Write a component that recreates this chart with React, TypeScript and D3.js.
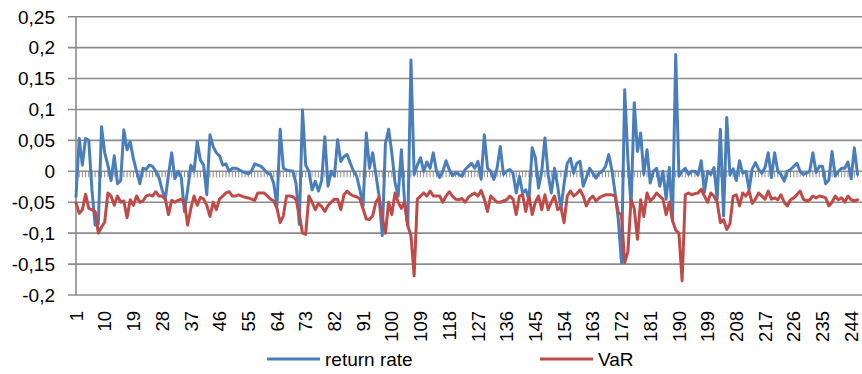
import * as d3 from "d3";

const returnRate = [
  -0.041, 0.053, 0.01, 0.053, 0.05, -0.03, -0.087, -0.085, 0.072, 0.03,
  0.01, -0.015, 0.025, -0.02, -0.015, 0.067, 0.035, 0.048, 0.02, 0.0,
  -0.02, 0.005, 0.003, 0.01, 0.008, 0.0, -0.01, -0.03, -0.045, -0.005,
  0.03, -0.012, 0.0, -0.01, -0.065, -0.03, 0.01, 0.0, 0.048, 0.018,
  0.01, -0.038, 0.059, 0.04, 0.03, 0.025, 0.01, 0.012, 0.0, 0.005,
  0.005, 0.003, 0.0, -0.002, -0.004, 0.0, 0.012, 0.01, 0.008, 0.003,
  -0.003, -0.005, -0.02, -0.056, 0.068, 0.005, 0.002, 0.001, 0.0, -0.02,
  -0.086, 0.099, 0.01, 0.0, -0.03, -0.016, -0.032, -0.015, 0.056, -0.024,
  0.0, -0.008, 0.051, 0.016, 0.024, 0.027, 0.013, 0.0, -0.008, -0.03,
  -0.056, 0.062, 0.005, 0.03, -0.005, -0.04, -0.104, 0.045, 0.068, 0.03,
  -0.018, -0.04, 0.035, -0.05, -0.088, 0.18, -0.005, 0.01, 0.022, 0.0,
  0.015, 0.005, 0.03, 0.0, -0.01, 0.0, 0.017, 0.003, -0.007, -0.002,
  -0.005, -0.008, 0.003, 0.008, 0.013, 0.005, 0.016, -0.013, 0.059, 0.005,
  0.0, -0.013, 0.005, 0.04, -0.005, 0.0, 0.003, -0.003, -0.035, -0.008,
  -0.035, -0.03, -0.046, 0.038, 0.022, -0.027, 0.0, 0.054, -0.005, -0.035,
  0.005, -0.024, -0.062, -0.02, 0.013, 0.021, -0.003, 0.013, 0.016, -0.024,
  -0.01, 0.005, -0.003, -0.011, -0.003, 0.0, 0.008, 0.027, 0.002, -0.035,
  -0.078, -0.148, 0.132, 0.02, -0.056, 0.111, 0.032, 0.062, -0.005, 0.035,
  -0.019, 0.0, 0.005, -0.024, 0.0, -0.045, 0.006, -0.08, 0.189, -0.008,
  0.0, 0.005, -0.005, 0.0, 0.0, -0.006, 0.017, -0.034, 0.0, -0.005,
  0.006, -0.045, 0.068, -0.072, 0.087, -0.006, 0.004, -0.015, 0.017, -0.003,
  0.0, -0.03, 0.004, 0.014, 0.003, -0.003, 0.006, 0.03, -0.01, 0.03,
  0.0, -0.005, -0.016, 0.0, 0.003, 0.008, 0.013, 0.0, -0.005, -0.003,
  0.0, 0.03, -0.002, 0.008, 0.008, -0.02, -0.014, 0.032, -0.008, 0.0,
  0.005, 0.005, 0.015, -0.012, 0.038, -0.005,
];

const valueAtRisk = [
  -0.051, -0.068, -0.062, -0.037, -0.06, -0.062, -0.065, -0.1, -0.09, -0.082,
  -0.035, -0.04, -0.055, -0.04, -0.05, -0.048, -0.075, -0.046, -0.055, -0.04,
  -0.05, -0.048, -0.04, -0.038, -0.04, -0.033, -0.04, -0.04, -0.045, -0.07,
  -0.047, -0.05, -0.047, -0.045, -0.05, -0.087, -0.06, -0.04, -0.055, -0.042,
  -0.045, -0.055, -0.073, -0.05, -0.062, -0.045, -0.04, -0.035, -0.033, -0.04,
  -0.04, -0.038, -0.04, -0.042, -0.043, -0.045, -0.047, -0.035, -0.035, -0.035,
  -0.04, -0.045, -0.048, -0.06, -0.083, -0.072, -0.04, -0.04, -0.041, -0.046,
  -0.07, -0.1, -0.102, -0.04, -0.05, -0.062, -0.052, -0.057, -0.065, -0.055,
  -0.05, -0.045, -0.045, -0.062, -0.038, -0.032, -0.037, -0.04, -0.041, -0.045,
  -0.061, -0.077, -0.078, -0.072, -0.05, -0.042, -0.075, -0.1, -0.05, -0.07,
  -0.035, -0.05, -0.06, -0.05, -0.088, -0.104, -0.169, -0.045, -0.04, -0.035,
  -0.04, -0.032, -0.04, -0.04, -0.04, -0.05, -0.04, -0.033, -0.04, -0.045,
  -0.046, -0.044, -0.05, -0.042, -0.038, -0.035, -0.04, -0.031, -0.045, -0.065,
  -0.04, -0.045, -0.05, -0.05, -0.048, -0.046, -0.04, -0.045, -0.07, -0.04,
  -0.038, -0.065, -0.04, -0.07, -0.05, -0.04, -0.062, -0.038, -0.062, -0.05,
  -0.04, -0.062, -0.058, -0.083, -0.04, -0.032, -0.04, -0.036, -0.03, -0.04,
  -0.056, -0.045, -0.04, -0.048, -0.043, -0.04, -0.038, -0.038, -0.038, -0.04,
  -0.067, -0.07, -0.148, -0.13, -0.046, -0.06, -0.11, -0.046, -0.073, -0.035,
  -0.048, -0.043, -0.035, -0.04, -0.045, -0.07, -0.05, -0.08, -0.095, -0.1,
  -0.177, -0.038, -0.035, -0.038, -0.036, -0.035, -0.029, -0.04, -0.05, -0.035,
  -0.04, -0.05, -0.083, -0.078, -0.094, -0.085, -0.04, -0.038, -0.056, -0.035,
  -0.04, -0.032, -0.052, -0.045, -0.035, -0.04, -0.045, -0.032, -0.045, -0.043,
  -0.046, -0.038, -0.05, -0.056, -0.046, -0.043, -0.038, -0.032, -0.045, -0.048,
  -0.046, -0.04, -0.043, -0.04, -0.041, -0.043, -0.056, -0.05, -0.04, -0.046,
  -0.043, -0.05, -0.04, -0.046, -0.048, -0.046,
];

const categories = returnRate.map((_, i) => i + 1);
const xTickLabels = categories.filter((c) => (c - 1) % 9 === 0);
const yTicks = [0.25, 0.2, 0.15, 0.1, 0.05, 0, -0.05, -0.1, -0.15, -0.2];

const seriesNames = ["return rate", "VaR"];
const colors = ["#4a7ebb", "#be4b48"];

const width = 862;
const height = 374;
const plot = { left: 76, right: 862, top: 16.7, bottom: 295 };
const step = 3.19;

const fmt = (v) => String(v).replace(".", ",");

export default function App() {
  const x = d3
    .scalePoint()
    .domain(categories)
    .range([plot.left, plot.left + (categories.length - 1) * step]);

  const y = d3.scaleLinear().domain([-0.2, 0.25]).range([plot.bottom, plot.top]);

  const line = d3
    .line()
    .x((d, i) => x(categories[i]))
    .y((d) => y(d));

  const font = "'Liberation Sans', Arial, sans-serif";
  const gridColor = "#8c8c8c";

  return (
    <svg
      width={width}
      height={height}
      style={{ position: "absolute", left: 0, top: 0, background: "#fff" }}
      fontFamily={font}
    >
      {/* gridlines and value labels */}
      {yTicks.map((t) => (
        <g key={t}>
          <line
            x1={68}
            x2={plot.right}
            y1={y(t)}
            y2={y(t)}
            stroke={gridColor}
            strokeWidth={1.6}
          />
          <text
            x={55}
            y={y(t)}
            dy="0.36em"
            textAnchor="end"
            fontSize={19}
            fill="#000"
          >
            {fmt(t)}
          </text>
        </g>
      ))}

      <line
        x1={plot.left}
        x2={plot.left}
        y1={plot.top}
        y2={plot.bottom}
        stroke={gridColor}
        strokeWidth={1.6}
      />

      {/* category ticks hang off the zero line */}
      {categories.map((c) => (
        <line
          key={c}
          x1={x(c)}
          x2={x(c)}
          y1={y(0)}
          y2={y(0) + 6}
          stroke={gridColor}
          strokeWidth={1}
        />
      ))}

      {xTickLabels.map((c) => (
        <text
          key={c}
          transform={`translate(${x(c)},311) rotate(-90)`}
          dy="0.36em"
          textAnchor="end"
          fontSize={18.5}
          fill="#000"
        >
          {c}
        </text>
      ))}

      {[returnRate, valueAtRisk].map((s, k) => (
        <path
          key={k}
          d={line(s)}
          fill="none"
          stroke={colors[k]}
          strokeWidth={3}
          strokeLinejoin="round"
          strokeLinecap="round"
        />
      ))}

      {seriesNames.map((name, k) => {
        const lx = k === 0 ? 267 : 540;
        return (
          <g key={name}>
            <line
              x1={lx}
              x2={lx + 53}
              y1={359}
              y2={359}
              stroke={colors[k]}
              strokeWidth={3}
            />
            <text x={lx + 58} y={359} dy="0.36em" fontSize={19} fill="#000">
              {name}
            </text>
          </g>
        );
      })}
    </svg>
  );
}
